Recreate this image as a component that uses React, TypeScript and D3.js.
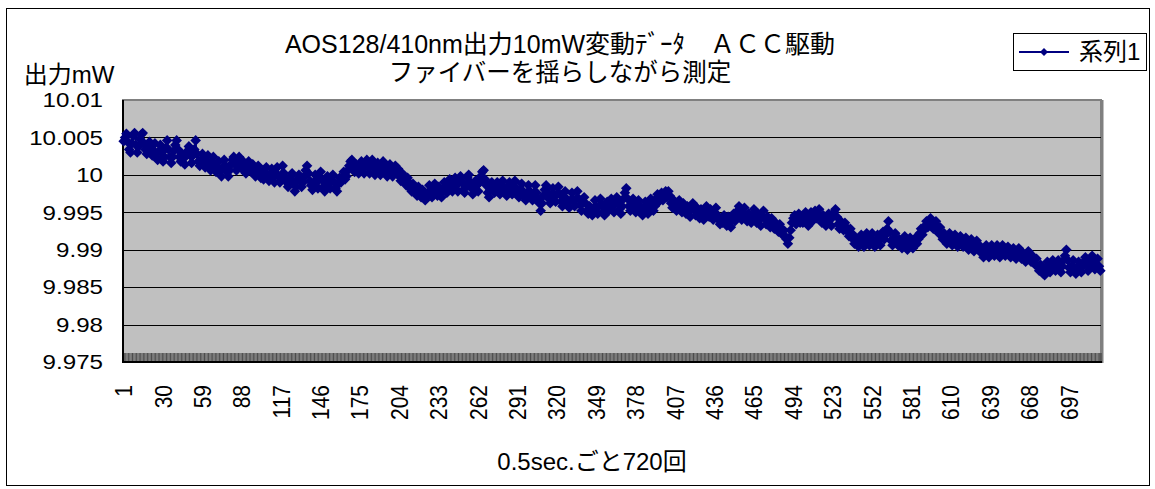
import React from 'react';
import * as d3 from 'd3';

// 出力 (mW), one reading every 0.5 s, 720 readings
const outputMW: number[] = [
  10.0045, 10.0050, 10.0055, 10.0044, 10.0034, 10.0030, 10.0042, 10.0052, 10.0056, 10.0040,
  10.0030, 10.0038, 10.0048, 10.0054, 10.0056, 10.0042, 10.0034, 10.0028, 10.0036, 10.0044,
  10.0036, 10.0026, 10.0032, 10.0042, 10.0024, 10.0020, 10.0032, 10.0040, 10.0030, 10.0018,
  10.0024, 10.0036, 10.0046, 10.0034, 10.0024, 10.0016, 10.0024, 10.0032, 10.0040, 10.0046,
  10.0034, 10.0024, 10.0018, 10.0028, 10.0022, 10.0014, 10.0026, 10.0032, 10.0038, 10.0026,
  10.0016, 10.0026, 10.0034, 10.0046, 10.0028, 10.0018, 10.0012, 10.0020, 10.0028, 10.0018,
  10.0010, 10.0018, 10.0026, 10.0014, 10.0006, 10.0018, 10.0024, 10.0012, 10.0004, 10.0010,
  10.0018, 10.0006, 9.9998, 10.0010, 10.0020, 10.0012, 10.0004, 9.9998, 10.0006, 10.0014,
  10.0020, 10.0024, 10.0014, 10.0006, 10.0018, 10.0024, 10.0014, 10.0008, 10.0018, 10.0012,
  10.0002, 10.0008, 10.0018, 10.0012, 10.0004, 10.0014, 10.0008, 9.9998, 10.0004, 10.0012,
  10.0004, 9.9996, 10.0004, 9.9994, 10.0002, 10.0010, 10.0000, 9.9992, 10.0000, 10.0008,
  9.9998, 9.9990, 10.0002, 10.0010, 9.9998, 9.9990, 10.0000, 10.0012, 10.0002, 9.9994,
  9.9990, 9.9984, 9.9990, 9.9998, 10.0002, 9.9990, 9.9978, 9.9984, 9.9994, 10.0000,
  9.9992, 9.9984, 9.9990, 9.9998, 10.0006, 10.0012, 10.0002, 9.9992, 9.9986, 9.9980,
  9.9990, 10.0000, 9.9990, 9.9982, 9.9994, 10.0004, 9.9994, 9.9984, 9.9978, 9.9988,
  9.9998, 9.9990, 9.9982, 9.9992, 10.0000, 9.9990, 9.9982, 9.9978, 9.9988, 9.9996,
  9.9990, 9.9996, 10.0004, 9.9994, 9.9998, 10.0006, 10.0012, 10.0018, 10.0020, 10.0010,
  10.0004, 10.0014, 10.0008, 10.0002, 10.0012, 10.0018, 10.0008, 10.0002, 10.0012, 10.0020,
  10.0010, 10.0002, 10.0014, 10.0020, 10.0010, 10.0000, 10.0006, 10.0016, 10.0008, 10.0000,
  10.0010, 10.0018, 10.0010, 10.0004, 9.9998, 10.0008, 10.0014, 10.0004, 9.9998, 10.0008,
  10.0012, 10.0002, 10.0008, 9.9998, 9.9992, 10.0002, 9.9998, 9.9990, 9.9986, 9.9996,
  9.9990, 9.9982, 9.9978, 9.9988, 9.9982, 9.9976, 9.9972, 9.9984, 9.9978, 9.9970,
  9.9980, 9.9972, 9.9966, 9.9970, 9.9976, 9.9986, 9.9978, 9.9970, 9.9982, 9.9988,
  9.9978, 9.9972, 9.9984, 9.9976, 9.9970, 9.9980, 9.9990, 9.9984, 9.9976, 9.9986,
  9.9994, 9.9984, 9.9978, 9.9988, 9.9996, 9.9986, 9.9978, 9.9990, 9.9998, 9.9990,
  9.9980, 9.9976, 9.9986, 9.9996, 10.0000, 9.9990, 9.9982, 9.9974, 9.9982, 9.9992,
  9.9986, 9.9978, 9.9990, 9.9998, 10.0004, 10.0006, 9.9994, 9.9986, 9.9976, 9.9970,
  9.9980, 9.9990, 9.9984, 9.9976, 9.9984, 9.9990, 9.9980, 9.9974, 9.9984, 9.9992,
  9.9984, 9.9978, 9.9972, 9.9984, 9.9990, 9.9980, 9.9974, 9.9984, 9.9992, 9.9982,
  9.9976, 9.9970, 9.9980, 9.9988, 9.9978, 9.9972, 9.9966, 9.9976, 9.9986, 9.9978,
  9.9970, 9.9966, 9.9976, 9.9986, 9.9976, 9.9968, 9.9962, 9.9952, 9.9962, 9.9972,
  9.9980, 9.9986, 9.9976, 9.9968, 9.9962, 9.9972, 9.9982, 9.9972, 9.9964, 9.9974,
  9.9984, 9.9974, 9.9964, 9.9958, 9.9968, 9.9978, 9.9968, 9.9962, 9.9956, 9.9966,
  9.9976, 9.9966, 9.9958, 9.9968, 9.9978, 9.9968, 9.9960, 9.9952, 9.9962, 9.9970,
  9.9962, 9.9952, 9.9948, 9.9958, 9.9952, 9.9946, 9.9956, 9.9966, 9.9956, 9.9948,
  9.9958, 9.9968, 9.9960, 9.9950, 9.9946, 9.9956, 9.9964, 9.9952, 9.9960, 9.9968,
  9.9958, 9.9950, 9.9962, 9.9970, 9.9964, 9.9954, 9.9948, 9.9958, 9.9968, 9.9976,
  9.9982, 9.9968, 9.9958, 9.9952, 9.9962, 9.9968, 9.9958, 9.9950, 9.9956, 9.9966,
  9.9958, 9.9950, 9.9946, 9.9956, 9.9964, 9.9954, 9.9948, 9.9958, 9.9968, 9.9962,
  9.9952, 9.9958, 9.9968, 9.9974, 9.9964, 9.9970, 9.9976, 9.9966, 9.9972, 9.9978,
  9.9970, 9.9978, 9.9972, 9.9962, 9.9956, 9.9966, 9.9960, 9.9952, 9.9958, 9.9966,
  9.9956, 9.9950, 9.9962, 9.9956, 9.9948, 9.9958, 9.9952, 9.9944, 9.9954, 9.9962,
  9.9954, 9.9946, 9.9956, 9.9950, 9.9942, 9.9954, 9.9948, 9.9940, 9.9950, 9.9958,
  9.9950, 9.9944, 9.9954, 9.9946, 9.9940, 9.9950, 9.9956, 9.9946, 9.9940, 9.9934,
  9.9942, 9.9936, 9.9946, 9.9940, 9.9932, 9.9944, 9.9938, 9.9930, 9.9940, 9.9948,
  9.9938, 9.9944, 9.9952, 9.9958, 9.9948, 9.9940, 9.9950, 9.9956, 9.9946, 9.9938,
  9.9948, 9.9942, 9.9936, 9.9946, 9.9954, 9.9944, 9.9936, 9.9948, 9.9940, 9.9932,
  9.9944, 9.9952, 9.9942, 9.9934, 9.9944, 9.9938, 9.9930, 9.9942, 9.9936, 9.9928,
  9.9936, 9.9930, 9.9924, 9.9934, 9.9928, 9.9920, 9.9926, 9.9918, 9.9914, 9.9908,
  9.9916, 9.9926, 9.9936, 9.9942, 9.9946, 9.9934, 9.9942, 9.9948, 9.9936, 9.9944,
  9.9936, 9.9944, 9.9950, 9.9938, 9.9932, 9.9942, 9.9950, 9.9938, 9.9946, 9.9952,
  9.9942, 9.9948, 9.9954, 9.9944, 9.9936, 9.9946, 9.9940, 9.9932, 9.9940, 9.9948,
  9.9940, 9.9932, 9.9944, 9.9950, 9.9954, 9.9944, 9.9934, 9.9928, 9.9938, 9.9932,
  9.9926, 9.9936, 9.9930, 9.9924, 9.9918, 9.9928, 9.9922, 9.9914, 9.9908, 9.9916,
  9.9908, 9.9904, 9.9914, 9.9920, 9.9910, 9.9904, 9.9914, 9.9922, 9.9912, 9.9906,
  9.9916, 9.9922, 9.9912, 9.9904, 9.9910, 9.9920, 9.9914, 9.9906, 9.9916, 9.9924,
  9.9914, 9.9920, 9.9928, 9.9938, 9.9924, 9.9912, 9.9906, 9.9916, 9.9922, 9.9912,
  9.9906, 9.9914, 9.9908, 9.9902, 9.9912, 9.9918, 9.9906, 9.9900, 9.9910, 9.9916,
  9.9908, 9.9902, 9.9910, 9.9916, 9.9908, 9.9914, 9.9922, 9.9928, 9.9920, 9.9926,
  9.9932, 9.9938, 9.9930, 9.9936, 9.9942, 9.9936, 9.9928, 9.9934, 9.9938, 9.9928,
  9.9922, 9.9930, 9.9920, 9.9914, 9.9922, 9.9914, 9.9908, 9.9916, 9.9922, 9.9912,
  9.9906, 9.9914, 9.9920, 9.9910, 9.9904, 9.9912, 9.9918, 9.9910, 9.9904, 9.9912,
  9.9916, 9.9906, 9.9900, 9.9908, 9.9914, 9.9904, 9.9898, 9.9906, 9.9912, 9.9906,
  9.9898, 9.9904, 9.9896, 9.9890, 9.9900, 9.9906, 9.9896, 9.9890, 9.9898, 9.9906,
  9.9898, 9.9892, 9.9902, 9.9906, 9.9896, 9.9890, 9.9898, 9.9906, 9.9900, 9.9892,
  9.9898, 9.9904, 9.9896, 9.9890, 9.9898, 9.9902, 9.9894, 9.9888, 9.9896, 9.9902,
  9.9894, 9.9888, 9.9896, 9.9892, 9.9884, 9.9894, 9.9898, 9.9890, 9.9884, 9.9892,
  9.9886, 9.9880, 9.9888, 9.9878, 9.9872, 9.9880, 9.9874, 9.9868, 9.9866, 9.9876,
  9.9884, 9.9876, 9.9870, 9.9880, 9.9886, 9.9878, 9.9872, 9.9880, 9.9886, 9.9876,
  9.9870, 9.9878, 9.9886, 9.9892, 9.9900, 9.9886, 9.9876, 9.9870, 9.9878, 9.9886,
  9.9876, 9.9868, 9.9876, 9.9884, 9.9876, 9.9870, 9.9878, 9.9884, 9.9890, 9.9880,
  9.9872, 9.9878, 9.9886, 9.9892, 9.9882, 9.9874, 9.9880, 9.9888, 9.9878, 9.9872,
];

const categories: number[] = outputMW.map((_, i) => i + 1);
const xTickLabels = ['1', '30', '59', '88', '117', '146', '175', '204', '233', '262', '291', '320', '349',
  '378', '407', '436', '465', '494', '523', '552', '581', '610', '639', '668', '697'];
const yTicks = [9.975, 9.98, 9.985, 9.99, 9.995, 10, 10.005, 10.01];
const yTickLabels = ['9.975', '9.98', '9.985', '9.99', '9.995', '10', '10.005', '10.01'];

const titleLine1 = 'AOS128/410nm出力10mW変動ﾃﾞｰﾀ　ＡＣＣ駆動';
const titleLine2 = 'ファイバーを揺らしながら測定';
const yTitle = '出力mW';
const xTitle = '0.5sec.ごと720回';
const seriesName = '系列1';

const W = 1155;
const H = 489;
const plot = { left: 123, top: 100, right: 1101, bottom: 362 };
const font = "'Liberation Sans', Arial, 'Noto Sans CJK JP', sans-serif";
const navy = '#000080';

export default function App() {
  const x = d3.scaleBand<number>().domain(categories).range([plot.left, plot.right]).padding(0);
  const y = d3.scaleLinear().domain([9.975, 10.01]).range([plot.bottom, plot.top]);
  const cx = (c: number) => (x(c) as number) + x.bandwidth() / 2;

  const line = d3.line<number>()
    .x((_, i) => cx(categories[i]))
    .y(d => y(d));

  const diamond = (px: number, py: number, r: number) =>
    `M${px},${py - r}L${px + r},${py}L${px},${py + r}L${px - r},${py}Z`;

  const tickEdges = categories.map(c => x(c) as number).concat([plot.right]);

  return (
    <svg width={W} height={H} style={{ position: 'absolute', left: 0, top: 0, background: '#fff' }}
      fontFamily={font}>
      <rect x={6.5} y={8.5} width={1143} height={477} fill="#fff" stroke="#000" strokeWidth={1} />

      {/* plot area */}
      <rect x={plot.left} y={plot.top} width={plot.right - plot.left} height={plot.bottom - plot.top}
        fill="#c0c0c0" stroke="#808080" strokeWidth={2} />
      <line x1={plot.right + 1} x2={plot.right + 1} y1={plot.top} y2={plot.bottom + 1} stroke="#808080" strokeWidth={3} />

      {yTicks.slice(1, -1).map(t => (
        <line key={t} x1={plot.left} x2={plot.right} y1={Math.round(y(t)) + 0.5} y2={Math.round(y(t)) + 0.5}
          stroke="#000" strokeWidth={1} />
      ))}

      {/* category tick marks (inside) */}
      <g stroke="#1a1a1a" strokeWidth={0.7}>
        {tickEdges.map((tx, i) => (
          <line key={i} x1={tx} x2={tx} y1={plot.bottom - 9} y2={plot.bottom} />
        ))}
      </g>

      {/* axes */}
      <line x1={plot.left} x2={plot.left} y1={plot.top} y2={plot.bottom + 1} stroke="#000" strokeWidth={2} />
      <line x1={plot.left} x2={plot.right + 1} y1={plot.bottom} y2={plot.bottom} stroke="#000" strokeWidth={2} />

      {/* series */}
      <path d={line(outputMW) || ''} fill="none" stroke={navy} strokeWidth={1.5} />
      <g fill={navy}>
        {outputMW.map((v, i) => (
          <path key={i} d={diamond(cx(categories[i]), y(v), 5.3)} />
        ))}
      </g>

      {/* y tick labels */}
      {yTicks.map((t, i) => (
        <text key={t} transform={`translate(103,${y(t)}) scale(1.15,1)`} dy="0.35em" textAnchor="end"
          fontSize={21}>{yTickLabels[i]}</text>
      ))}

      {/* x tick labels */}
      {xTickLabels.map(l => (
        <text key={l} transform={`translate(${cx(+l)},385) scale(1.15,1) rotate(-90)`} dy="0.35em"
          textAnchor="end" fontSize={21}>{l}</text>
      ))}

      {/* titles */}
      <text x={560} y={44} dy="0.35em" textAnchor="middle" fontSize={25}>{titleLine1}</text>
      <text x={560} y={72} dy="0.35em" textAnchor="middle" fontSize={24.5}>{titleLine2}</text>
      <text x={69} y={75} dy="0.35em" textAnchor="middle" fontSize={24}>{yTitle}</text>
      <text x={592} y={462} dy="0.35em" textAnchor="middle" fontSize={24}>{xTitle}</text>

      {/* legend */}
      <rect x={1013.5} y={33.5} width={133} height={37} fill="#fff" stroke="#000" strokeWidth={1} />
      <line x1={1019} x2={1069} y1={52} y2={52} stroke={navy} strokeWidth={2} />
      <path d={diamond(1044, 52, 4)} fill={navy} />
      <text x={1079} y={52} dy="0.35em" fontSize={24}>{seriesName}</text>
    </svg>
  );
}
